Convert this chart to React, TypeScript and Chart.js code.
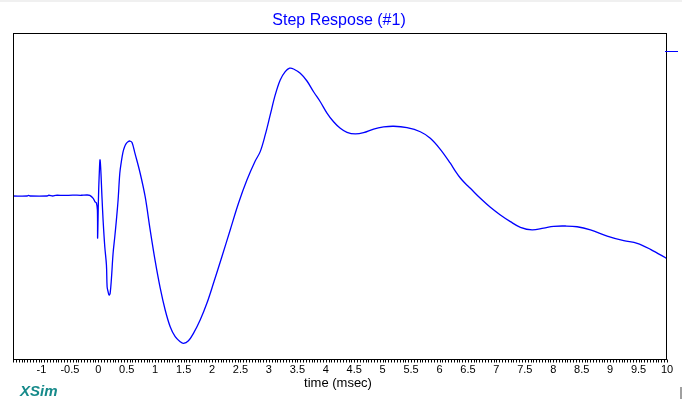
import React, { useEffect, useRef } from "react";
import { Chart, registerables } from "chart.js";

Chart.register(...registerables);

// ---- data (time in msec, normalized response) ----
const TIME: number[] = [
  -1.5, -1.25, -1.23, -1.2, -0.9, -0.87, -0.8, -0.75, -0.6, -0.45, -0.3, -0.2, -0.15,
  -0.09, -0.06, -0.033, -0.016, -0.012, 0.002, 0.014, 0.032, 0.067, 0.084, 0.114,
  0.143, 0.155, 0.172, 0.19, 0.208, 0.231, 0.26, 0.29, 0.318, 0.348, 0.378, 0.404,
  0.434, 0.461, 0.487, 0.522, 0.557, 0.593, 0.645, 0.736, 0.824, 0.912, 1.0, 1.088, 1.176, 1.264,
  1.352, 1.44, 1.497, 1.585, 1.673, 1.791, 1.909, 2.025, 2.173, 2.319, 2.465, 2.613,
  2.759, 2.847, 2.935, 3.023, 3.111, 3.199, 3.287, 3.363, 3.433, 3.551, 3.669, 3.785,
  3.903, 4.021, 4.137, 4.255, 4.373, 4.519, 4.665, 4.841, 5.017, 5.193, 5.428, 5.662,
  5.838, 6.014, 6.19, 6.278, 6.366, 6.454, 6.542, 6.718, 6.894, 7.07, 7.246, 7.422, 7.628, 7.832,
  8.008, 8.214, 8.42, 8.654, 8.948, 9.24, 9.476, 9.71, 10.0,
];
const RESPONSE: number[] = [
  0, 0, 0.004, 0, 0, 0.005, 0, 0.005, 0.004, 0.006, 0.005, 0.007, 0.004,
  -0.016, -0.039, -0.048, -0.097, -0.29, -0.028, 0.124, 0.248, -0.028, -0.166, -0.35,
  -0.476, -0.626, -0.66, -0.683, -0.671, -0.568, -0.395, -0.281, -0.166, -0.028, 0.157, 0.234,
  0.303, 0.338, 0.359, 0.374, 0.379, 0.369, 0.294, 0.157, -0.005, -0.234, -0.448, -0.634, -0.786, -0.901,
  -0.97, -1.005, -1.016, -0.998, -0.947, -0.855, -0.74, -0.602, -0.419, -0.234, -0.05, 0.11,
  0.241, 0.306, 0.421, 0.559, 0.697, 0.8, 0.857, 0.881, 0.876, 0.846, 0.793, 0.719,
  0.65, 0.572, 0.512, 0.467, 0.439, 0.428, 0.437, 0.462, 0.476, 0.481, 0.471, 0.443,
  0.398, 0.322, 0.226, 0.172, 0.124, 0.086, 0.053, -0.016, -0.078, -0.131, -0.177, -0.216, -0.234, -0.221,
  -0.209, -0.207, -0.212, -0.234, -0.276, -0.308, -0.326, -0.368, -0.432,
];
const TICK_LABELS: number[] = [
  -1, -0.5, 0, 0.5, 1, 1.5, 2, 2.5, 3, 3.5, 4, 4.5, 5, 5.5, 6, 6.5, 7, 7.5, 8, 8.5, 9, 9.5, 10,
];
const X_MIN = -1.5;
const X_MAX = 10;
const Y_MIN = -1.124;
const Y_MAX = 1.124;
const MINOR_STEP = 0.05;
const REF_LEVEL = 1;
const TITLE = "Step Respose (#1)";
const X_TITLE = "time (msec)";
const BRAND = "XSim";

const FONT = "'Liberation Sans', Arial, sans-serif";

const decorPlugin = {
  id: "decor",
  beforeDraw(chart: any) {
    const ctx = chart.ctx;
    ctx.save();
    ctx.fillStyle = "#ffffff";
    ctx.fillRect(0, 0, chart.width, chart.height);
    ctx.fillStyle = "#f0f0f0";
    ctx.fillRect(0, 0, chart.width, 2);
    ctx.fillStyle = "#a0a0a0";
    ctx.fillRect(680, 387, 2, 12);
    ctx.restore();
  },
  afterDraw(chart: any) {
    const ctx = chart.ctx;
    const ca = chart.chartArea;
    const xs = chart.scales.x;
    const ys = chart.scales.y;
    ctx.save();
    // frame
    ctx.strokeStyle = "#000000";
    ctx.lineWidth = 1;
    ctx.strokeRect(ca.left + 0.5, ca.top + 0.5, ca.right - ca.left - 1, ca.bottom - ca.top);
    // minor ticks
    ctx.beginPath();
    const n = Math.round((X_MAX - X_MIN) / MINOR_STEP);
    for (let i = 0; i <= n; i++) {
      const v = X_MIN + i * MINOR_STEP;
      const px = Math.round(xs.getPixelForValue(v)) + 0.5;
      ctx.moveTo(px, ca.bottom + 0.5);
      ctx.lineTo(px, ca.bottom + 3.5);
    }
    ctx.stroke();
    // tick labels
    ctx.fillStyle = "#000000";
    ctx.font = `11px ${FONT}`;
    ctx.textAlign = "center";
    ctx.textBaseline = "alphabetic";
    for (const v of TICK_LABELS) {
      ctx.fillText(String(v), xs.getPixelForValue(v), 373);
    }
    // axis title
    ctx.font = `13px ${FONT}`;
    ctx.fillText(X_TITLE, (ca.left + ca.right) / 2 - 2, 387);
    // title
    ctx.fillStyle = "#0000ff";
    ctx.font = `16px ${FONT}`;
    ctx.fillText(TITLE, (ca.left + ca.right) / 2 - 1, 25);
    // reference marker
    const ry = Math.round(ys.getPixelForValue(REF_LEVEL)) + 0.5;
    ctx.strokeStyle = "#0000ff";
    ctx.beginPath();
    ctx.moveTo(ca.right - 2, ry);
    ctx.lineTo(ca.right + 11, ry);
    ctx.stroke();
    // brand
    ctx.fillStyle = "#168a8a";
    ctx.font = `italic bold 15px ${FONT}`;
    ctx.textAlign = "left";
    ctx.fillText(BRAND, 20, 396);
    ctx.restore();
  },
};

export default function App() {
  const ref = useRef<HTMLCanvasElement | null>(null);
  useEffect(() => {
    if (!ref.current) return;
    const chart = new Chart(ref.current, {
      type: "line",
      data: {
        datasets: [
          {
            data: TIME.map((t, i) => ({ x: t, y: RESPONSE[i] })),
            borderColor: "#0000ff",
            borderWidth: 1.3,
            pointRadius: 0,
            fill: false,
            tension: 0.35,
          },
        ],
      },
      options: {
        responsive: false,
        animation: false,
        devicePixelRatio: 1,
        layout: { padding: { left: 13, top: 33, right: 15, bottom: 40 } },
        scales: {
          x: { type: "linear", min: X_MIN, max: X_MAX, display: false },
          y: { type: "linear", min: Y_MIN, max: Y_MAX, display: false },
        },
        plugins: {
          legend: { display: false },
          tooltip: { enabled: false },
          title: { display: false },
        },
      },
      plugins: [decorPlugin],
    });
    return () => chart.destroy();
  }, []);
  return (
    <div style={{ position: "fixed", left: 0, top: 0, width: 682, height: 399 }}>
      <canvas ref={ref} width={682} height={399} style={{ width: 682, height: 399, display: "block" }} />
    </div>
  );
}
